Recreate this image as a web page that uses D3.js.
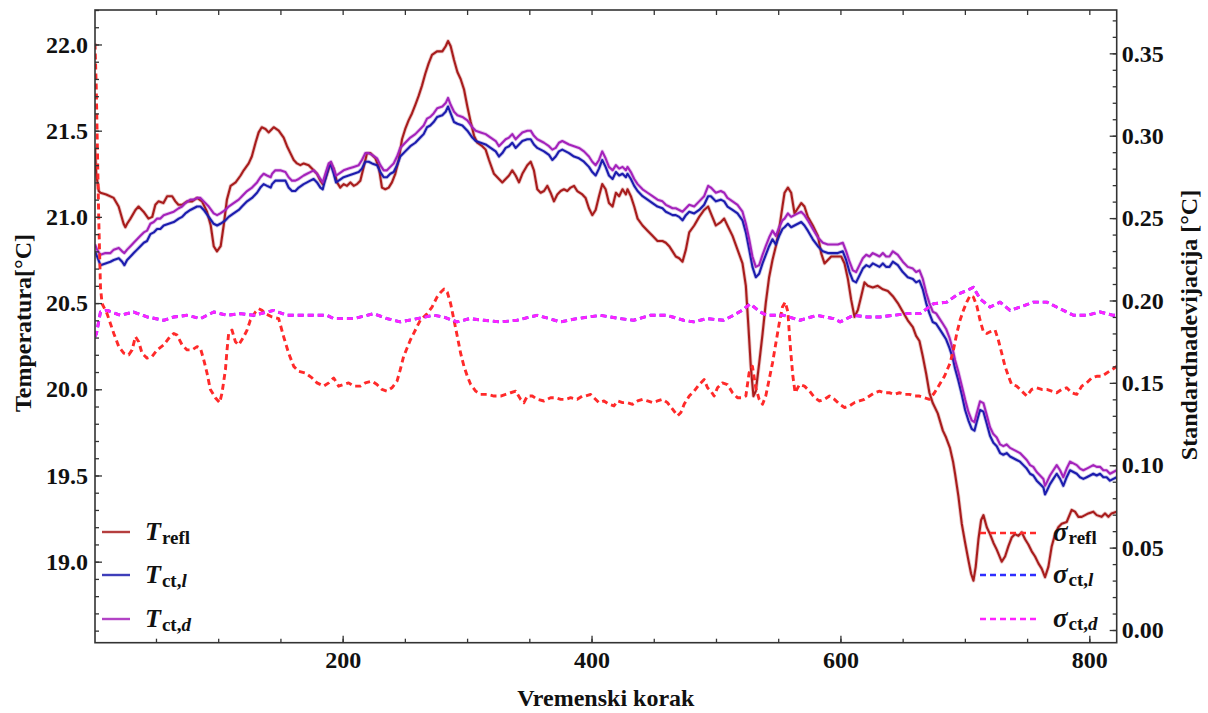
<!DOCTYPE html>
<html>
<head>
<meta charset="utf-8">
<script src="https://cdn.jsdelivr.net/npm/d3@7"></script>
<style>
  html, body { margin: 0; padding: 0; background: #ffffff; }
  svg { display: block; }
  text { font-family: "Liberation Serif", "Times New Roman", serif; font-weight: bold; fill: #111; }
</style>
</head>
<body>
<svg id="chart" width="1208" height="713"></svg>
<script>
// ---------------- DATA (step, value) ----------------
const tRefl = [[1,21.40],[2,21.25],[4,21.15],[5.4,21.14],[10,21.13],[16,21.11],[20,21.06],[24,20.96],[25.4,20.94],[26.8,20.96],[29.5,20.99],[33.5,21.04],[36,21.06],[40,21.03],[44,20.99],[47,21.00],[49.5,21.07],[52,21.09],[56,21.08],[59,21.12],[63,21.12],[65.6,21.09],[68,21.07],[71,21.07],[75,21.09],[79,21.09],[83,21.11],[87,21.09],[91,21.03],[94,20.95],[96.4,20.83],[99,20.80],[102,20.83],[104.4,20.95],[107,21.10],[110,21.18],[114,21.20],[118,21.24],[120.5,21.27],[124.5,21.31],[127,21.35],[130,21.43],[132.5,21.49],[135,21.52],[138,21.51],[140.5,21.49],[144.6,21.52],[148.6,21.50],[152.6,21.46],[155.3,21.41],[158,21.37],[160.7,21.33],[163.3,21.31],[166,21.30],[168.7,21.31],[172.7,21.30],[176.7,21.27],[179.4,21.25],[182.1,21.21],[184,21.19],[186.1,21.22],[188.8,21.28],[190.6,21.31],[192.8,21.28],[195.5,21.20],[198.1,21.17],[200.8,21.19],[203.5,21.18],[206.2,21.20],[208.9,21.18],[211.5,21.19],[214.2,21.21],[216.9,21.29],[219.6,21.37],[222.2,21.37],[226.3,21.34],[229,21.29],[231.6,21.17],[234.3,21.16],[237,21.17],[239.6,21.20],[242.3,21.25],[245,21.33],[247.7,21.45],[250.3,21.51],[253,21.56],[255.7,21.60],[258.4,21.65],[261,21.70],[263.7,21.76],[266.4,21.83],[269.1,21.89],[271.8,21.94],[275.8,21.96],[280.1,21.96],[282.8,21.99],[284.7,22.02],[286.8,21.99],[289.5,21.91],[292.2,21.84],[294.8,21.80],[297.5,21.74],[300.2,21.64],[302.9,21.55],[305.6,21.47],[308.2,21.43],[312.2,21.41],[314.9,21.39],[317.6,21.33],[321.6,21.25],[325.6,21.22],[328.3,21.20],[331,21.22],[333.7,21.24],[336.3,21.27],[339,21.24],[341.7,21.20],[344.4,21.25],[348.4,21.30],[351.1,21.32],[353.7,21.27],[356.4,21.16],[359.1,21.14],[361.8,21.15],[364.5,21.18],[367.1,21.14],[369.8,21.09],[372.5,21.13],[375.2,21.15],[377.8,21.16],[380.5,21.15],[383.2,21.17],[385.9,21.18],[388.5,21.15],[392.6,21.13],[395.2,21.11],[397.9,21.05],[400.6,21.01],[403.3,21.04],[406,21.12],[408.6,21.19],[411.3,21.16],[414,21.08],[416.9,21.06],[419.6,21.14],[422.2,21.12],[424.9,21.16],[427.6,21.13],[428.9,21.16],[431.6,21.12],[434.3,21.06],[437,20.99],[441,20.95],[445,20.92],[449,20.89],[453,20.86],[457,20.86],[459.7,20.85],[462.4,20.83],[465.1,20.80],[467.7,20.77],[470.4,20.76],[473.1,20.74],[475.8,20.81],[478.5,20.91],[482.5,20.95],[486.5,21.00],[490.5,21.04],[493.7,21.06],[495.9,21.02],[499.9,20.95],[503.9,20.97],[506.6,20.99],[509.2,20.95],[513.3,20.89],[517.3,20.81],[521.3,20.73],[524,20.60],[526.1,20.36],[528,20.13],[530.1,19.96],[532,19.99],[534.7,20.15],[537.4,20.32],[540,20.50],[542.7,20.65],[545.4,20.75],[548.1,20.83],[550.8,20.93],[553.4,21.06],[555.1,21.14],[557.8,21.17],[560.4,21.14],[563.1,21.02],[565.8,21.05],[568.5,21.08],[571.1,21.06],[573.8,21.00],[577.8,20.95],[581.9,20.89],[584.5,20.79],[587.2,20.73],[589.9,20.75],[592.6,20.77],[596.6,20.77],[600.6,20.77],[603.3,20.73],[606,20.64],[608.6,20.52],[611.3,20.42],[614,20.46],[616.7,20.54],[619.3,20.62],[622,20.60],[626,20.59],[630,20.60],[634.1,20.58],[638.1,20.57],[642.1,20.54],[646.1,20.50],[650.1,20.45],[654.1,20.40],[658.2,20.36],[660.8,20.31],[663.5,20.28],[666.2,20.19],[668.9,20.09],[671.5,19.98],[674.2,19.92],[678.2,19.86],[682.3,19.76],[684.9,19.72],[688,19.66],[690.5,19.58],[692.1,19.51],[694.8,19.38],[697.5,19.22],[700.2,19.11],[702.8,19.01],[705,18.93],[706.9,18.89],[708.7,18.97],[710.9,19.13],[713,19.24],[714.9,19.27],[717.6,19.20],[720.2,19.16],[722.9,19.11],[725.6,19.07],[729.6,19.00],[732.3,19.03],[735,19.09],[737.6,19.14],[740.3,19.16],[743,19.15],[745.7,19.17],[748.4,19.13],[751,19.10],[753.7,19.06],[756.4,19.03],[759.1,18.99],[761.7,18.96],[764.4,18.91],[767.1,18.97],[769.8,19.09],[772.5,19.16],[775.1,19.20],[777.8,19.22],[781.8,19.23],[785.8,19.30],[788.5,19.29],[791.2,19.26],[793.9,19.26],[796.6,19.27],[799.2,19.28],[803.2,19.29],[805.9,19.27],[809.9,19.26],[812.6,19.28],[815.3,19.26],[817.9,19.28],[822,19.29]];

const tCtL = [[1,20.80],[2.7,20.77],[5.4,20.72],[9.4,20.73],[13.4,20.74],[16.1,20.75],[20.1,20.76],[22.8,20.74],[24.6,20.72],[26.8,20.75],[29.5,20.77],[32.1,20.79],[34.8,20.81],[37.5,20.83],[40.2,20.85],[42.8,20.86],[45.5,20.90],[48.2,20.91],[50.9,20.93],[53.5,20.93],[56.2,20.95],[60.2,20.96],[64.3,20.97],[68.3,20.99],[71,21.00],[73.6,21.02],[77.6,21.04],[80.3,21.05],[83,21.06],[85.7,21.06],[88.4,21.04],[92.4,21.00],[96.4,20.96],[99.1,20.95],[101.7,20.96],[105.8,20.98],[108.4,21.00],[112.4,21.02],[116.5,21.04],[119.1,21.06],[123.2,21.09],[127.2,21.11],[131.2,21.14],[133.9,21.17],[136.5,21.19],[139.2,21.18],[142.2,21.17],[143.3,21.19],[145.9,21.21],[149.9,21.21],[154,21.21],[156.6,21.17],[159.3,21.15],[162,21.15],[164.7,21.17],[168.7,21.19],[171.4,21.20],[174,21.21],[176.7,21.22],[179.4,21.20],[182.1,21.17],[184,21.16],[186.1,21.22],[188.8,21.29],[190.6,21.30],[192.8,21.25],[194.7,21.20],[196.8,21.21],[200.8,21.23],[204.8,21.24],[208.9,21.25],[212.9,21.26],[215.5,21.28],[218.2,21.32],[220.9,21.32],[223.6,21.31],[227.6,21.30],[230.3,21.26],[233,21.23],[235.6,21.23],[238.3,21.25],[241,21.26],[243.7,21.30],[246.3,21.35],[250.3,21.38],[254.4,21.41],[258.4,21.43],[262.4,21.46],[265.1,21.48],[267.8,21.52],[270.4,21.53],[273.1,21.55],[276,21.58],[280.1,21.59],[282.8,21.61],[284.7,21.64],[286.8,21.60],[289.5,21.55],[292.2,21.54],[296.2,21.53],[300.2,21.50],[304.2,21.46],[306.9,21.44],[310.9,21.43],[314.9,21.42],[318.9,21.40],[323,21.38],[325.6,21.35],[328.3,21.37],[331,21.40],[333.7,21.41],[336.3,21.43],[339,21.40],[341.7,21.42],[344.4,21.44],[348.4,21.45],[351.1,21.45],[353.7,21.42],[356.4,21.40],[359.1,21.39],[361.8,21.38],[365.8,21.36],[368.5,21.33],[371.2,21.35],[373.8,21.38],[376.5,21.39],[379.2,21.38],[381.9,21.37],[385.9,21.35],[389.9,21.34],[393.9,21.32],[397.9,21.29],[400.6,21.26],[403.3,21.24],[406,21.28],[408.6,21.33],[411.3,21.29],[414,21.24],[416.9,21.22],[419.6,21.26],[422.2,21.24],[424.9,21.25],[427.6,21.23],[428.9,21.25],[431.6,21.22],[434.3,21.18],[437,21.15],[441,21.12],[445,21.10],[449,21.08],[453,21.06],[457,21.05],[459.7,21.03],[462.4,21.02],[465.1,21.01],[467.7,21.01],[470.4,21.00],[473.1,20.98],[475.8,21.01],[478.5,21.03],[482.5,21.02],[486.5,21.04],[490.5,21.07],[493.7,21.12],[495.9,21.12],[499.9,21.09],[503.9,21.10],[506.6,21.09],[509.2,21.06],[513.3,21.04],[517.3,21.02],[521.3,20.98],[524,20.91],[526.7,20.81],[529.3,20.71],[532,20.65],[534.7,20.67],[537.4,20.73],[540,20.78],[542.7,20.83],[545.4,20.87],[548.1,20.84],[550.8,20.89],[553.4,20.93],[555.1,20.94],[557.8,20.96],[560.4,20.94],[563.1,20.95],[565.8,20.96],[568.5,20.97],[571.1,20.95],[573.8,20.92],[577.8,20.87],[581.9,20.83],[585.9,20.80],[589.9,20.79],[593.9,20.79],[597.9,20.79],[601.9,20.80],[604.6,20.75],[607.3,20.68],[610,20.63],[612.6,20.62],[615.3,20.66],[618,20.70],[620.7,20.72],[623.4,20.71],[626,20.73],[628.7,20.72],[631.4,20.71],[634.1,20.73],[636.7,20.71],[639.4,20.71],[642.1,20.74],[646.1,20.72],[650.1,20.68],[654.1,20.65],[658.2,20.64],[660.8,20.62],[663.5,20.63],[666.2,20.58],[668.9,20.50],[671.5,20.44],[674.2,20.39],[676.9,20.38],[679.6,20.35],[682.3,20.32],[684.9,20.29],[687.6,20.24],[690.3,20.18],[692.1,20.12],[694.8,20.05],[697.5,19.97],[700.2,19.88],[702.8,19.82],[705.5,19.77],[707.7,19.76],[709.5,19.81],[712.2,19.88],[714.9,19.87],[717.6,19.80],[720.2,19.73],[722.9,19.69],[725.6,19.67],[728.3,19.63],[730.9,19.62],[733.6,19.63],[736.3,19.61],[739,19.60],[741.7,19.59],[744.3,19.58],[747,19.56],[749.7,19.54],[752.4,19.51],[755,19.50],[757.7,19.47],[760.4,19.45],[763.1,19.43],[764.4,19.39],[765.8,19.41],[768.4,19.45],[771.1,19.48],[773.8,19.51],[776.5,19.48],[779.1,19.44],[781.8,19.49],[784.5,19.53],[787.2,19.52],[789.9,19.51],[792.5,19.49],[795.2,19.48],[797.9,19.49],[800.6,19.50],[803.2,19.51],[805.9,19.50],[808.6,19.51],[811.3,19.49],[813.9,19.49],[816.6,19.47],[819.3,19.48],[822,19.49]];

const tCtD = [[1,20.84],[2.7,20.81],[5.4,20.78],[9.4,20.79],[13.4,20.79],[16.1,20.81],[20.1,20.82],[22.8,20.80],[24.6,20.79],[26.8,20.81],[29.5,20.83],[32.1,20.85],[34.8,20.87],[37.5,20.89],[40.2,20.91],[42.8,20.92],[45.5,20.96],[48.2,20.97],[50.9,20.99],[53.5,20.99],[56.2,21.01],[60.2,21.02],[64.3,21.03],[68.3,21.05],[71,21.06],[73.6,21.08],[77.6,21.10],[80.3,21.10],[83,21.11],[85.7,21.11],[88.4,21.09],[92.4,21.06],[96.4,21.02],[99.1,21.01],[101.7,21.02],[105.8,21.04],[108.4,21.06],[112.4,21.08],[116.5,21.10],[119.1,21.12],[123.2,21.15],[127.2,21.17],[131.2,21.20],[133.9,21.23],[136.5,21.25],[139.2,21.24],[142.2,21.23],[143.3,21.25],[145.9,21.27],[149.9,21.27],[154,21.26],[156.6,21.23],[159.3,21.21],[162,21.21],[164.7,21.22],[168.7,21.24],[171.4,21.25],[174,21.26],[176.7,21.27],[179.4,21.25],[182.1,21.22],[184,21.20],[186.1,21.25],[188.8,21.31],[190.6,21.32],[192.8,21.28],[194.7,21.24],[196.8,21.25],[200.8,21.27],[204.8,21.28],[208.9,21.29],[212.9,21.30],[215.5,21.33],[218.2,21.37],[220.9,21.37],[223.6,21.36],[227.6,21.34],[230.3,21.30],[233,21.27],[235.6,21.27],[238.3,21.29],[241,21.31],[243.7,21.35],[246.3,21.40],[250.3,21.43],[254.4,21.46],[258.4,21.48],[262.4,21.51],[265.1,21.53],[267.8,21.57],[270.4,21.58],[273.1,21.60],[276,21.63],[280.1,21.64],[282.8,21.66],[284.7,21.69],[286.8,21.65],[289.5,21.61],[292.2,21.59],[296.2,21.58],[300.2,21.56],[304.2,21.52],[306.9,21.50],[310.9,21.49],[314.9,21.48],[318.9,21.46],[323,21.44],[325.6,21.41],[328.3,21.43],[331,21.45],[333.7,21.46],[336.3,21.48],[339,21.45],[341.7,21.47],[344.4,21.49],[348.4,21.50],[351.1,21.50],[353.7,21.47],[356.4,21.45],[359.1,21.44],[361.8,21.43],[365.8,21.41],[368.5,21.39],[371.2,21.40],[373.8,21.43],[376.5,21.44],[379.2,21.43],[381.9,21.42],[385.9,21.41],[389.9,21.40],[393.9,21.38],[397.9,21.35],[400.6,21.32],[403.3,21.30],[406,21.33],[408.6,21.38],[411.3,21.34],[414,21.29],[416.9,21.27],[419.6,21.30],[422.2,21.28],[424.9,21.29],[427.6,21.27],[428.9,21.29],[431.6,21.26],[434.3,21.22],[437,21.19],[441,21.16],[445,21.14],[449,21.12],[453,21.10],[457,21.09],[459.7,21.07],[462.4,21.06],[465.1,21.05],[467.7,21.05],[470.4,21.04],[473.1,21.03],[475.8,21.05],[478.5,21.07],[482.5,21.06],[486.5,21.09],[490.5,21.12],[493.7,21.18],[495.9,21.17],[499.9,21.14],[503.9,21.15],[506.6,21.14],[509.2,21.11],[513.3,21.09],[517.3,21.07],[521.3,21.03],[524,20.96],[526.7,20.87],[529.3,20.77],[532,20.71],[534.7,20.72],[537.4,20.78],[540,20.83],[542.7,20.88],[545.4,20.92],[548.1,20.89],[550.8,20.94],[553.4,20.98],[555.1,20.99],[557.8,21.02],[560.4,21.00],[563.1,21.01],[565.8,21.02],[568.5,21.03],[571.1,21.01],[573.8,20.98],[577.8,20.93],[581.9,20.88],[585.9,20.85],[589.9,20.84],[593.9,20.84],[597.9,20.84],[601.9,20.85],[604.6,20.80],[607.3,20.74],[610,20.69],[612.6,20.68],[615.3,20.72],[618,20.76],[620.7,20.78],[623.4,20.77],[626,20.79],[628.7,20.78],[631.4,20.77],[634.1,20.79],[636.7,20.77],[639.4,20.77],[642.1,20.80],[646.1,20.78],[650.1,20.74],[654.1,20.71],[658.2,20.70],[660.8,20.68],[663.5,20.69],[666.2,20.64],[668.9,20.56],[671.5,20.50],[674.2,20.45],[676.9,20.44],[679.6,20.41],[682.3,20.38],[684.9,20.35],[687.6,20.30],[690.3,20.23],[692.1,20.17],[694.8,20.10],[697.5,20.02],[700.2,19.94],[702.8,19.87],[705.5,19.82],[707.7,19.81],[709.5,19.86],[712.2,19.93],[714.9,19.92],[717.6,19.85],[720.2,19.78],[722.9,19.74],[725.6,19.72],[728.3,19.68],[730.9,19.67],[733.6,19.68],[736.3,19.66],[739,19.65],[741.7,19.64],[744.3,19.63],[747,19.61],[749.7,19.59],[752.4,19.56],[755,19.55],[757.7,19.52],[760.4,19.50],[763.1,19.48],[764.4,19.44],[765.8,19.46],[768.4,19.50],[771.1,19.53],[773.8,19.56],[776.5,19.53],[779.1,19.49],[781.8,19.54],[784.5,19.58],[787.2,19.57],[789.9,19.56],[792.5,19.54],[795.2,19.53],[797.9,19.54],[800.6,19.55],[803.2,19.56],[805.9,19.55],[808.6,19.55],[811.3,19.53],[813.9,19.53],[816.6,19.51],[819.3,19.52],[822,19.53]];

const sigmaRefl = [[1,0.356],[2,0.33],[3,0.29],[4,0.25],[5.4,0.208],[6.7,0.198],[10.7,0.192],[16.1,0.180],[20.1,0.172],[24.1,0.168],[28.1,0.167],[30.8,0.170],[33.5,0.178],[36.1,0.175],[38.8,0.168],[42.8,0.165],[46.9,0.166],[50.9,0.170],[56.2,0.173],[60.2,0.177],[64.3,0.180],[66.9,0.179],[71,0.173],[75,0.170],[79,0.170],[83,0.172],[85.7,0.171],[88.4,0.164],[91,0.156],[93.7,0.146],[97.7,0.141],[101.2,0.138],[103.1,0.144],[105.8,0.158],[107.1,0.170],[108.4,0.180],[111.1,0.182],[113.8,0.175],[116.5,0.173],[120.5,0.178],[123.2,0.182],[125.8,0.188],[129.9,0.193],[132.5,0.195],[135.2,0.194],[137.9,0.192],[143.3,0.190],[148.6,0.189],[152.6,0.178],[156.6,0.168],[160.7,0.160],[164.7,0.157],[170,0.156],[175.4,0.153],[179.4,0.150],[184.8,0.148],[188.8,0.150],[192.8,0.153],[196.8,0.148],[200.8,0.149],[204.8,0.150],[208.9,0.148],[214.2,0.148],[218.2,0.150],[223.6,0.151],[227.6,0.149],[231.6,0.146],[235.6,0.145],[239.6,0.147],[243.7,0.151],[246.3,0.158],[249,0.166],[251.7,0.171],[254.4,0.176],[257.1,0.180],[259.7,0.184],[262.4,0.188],[265.1,0.190],[267.8,0.192],[271.8,0.196],[275.8,0.202],[278.8,0.205],[281.5,0.207],[284.1,0.205],[286.8,0.198],[289.5,0.188],[292.2,0.178],[294.8,0.168],[297.5,0.160],[300.2,0.154],[302.9,0.149],[306.9,0.145],[310.9,0.143],[316.3,0.143],[321.6,0.142],[327,0.142],[331,0.143],[335,0.144],[339,0.145],[343,0.140],[345.7,0.138],[348.4,0.142],[352.4,0.142],[356.4,0.140],[361.8,0.139],[367.1,0.141],[371.1,0.141],[375.2,0.140],[379.2,0.140],[383.2,0.141],[388.5,0.140],[392.6,0.142],[395.2,0.142],[399.3,0.143],[401.9,0.141],[406,0.138],[410,0.139],[414,0.137],[418,0.136],[420.9,0.139],[424.9,0.138],[428.9,0.138],[433,0.137],[437,0.139],[441,0.140],[445,0.139],[449,0.138],[453,0.139],[457,0.140],[461,0.138],[465.1,0.134],[469.1,0.130],[471.8,0.132],[474.4,0.137],[478.5,0.142],[482.5,0.145],[486.5,0.149],[490.5,0.152],[493.2,0.147],[495.9,0.145],[498.5,0.142],[501.2,0.147],[505.2,0.150],[509.2,0.149],[513.3,0.144],[517.3,0.141],[521.3,0.141],[524,0.142],[526.6,0.156],[529.3,0.160],[532,0.147],[534.7,0.140],[537.4,0.137],[540,0.142],[542.7,0.152],[545.4,0.162],[548.1,0.174],[550.8,0.186],[553.4,0.196],[555.6,0.199],[557.8,0.193],[559.1,0.178],[560.4,0.166],[561.8,0.154],[563.6,0.144],[567.1,0.149],[571.1,0.148],[575.2,0.145],[579.2,0.141],[583.2,0.139],[587.2,0.140],[591.2,0.142],[595.2,0.140],[599.3,0.137],[603.3,0.135],[607.3,0.136],[611.3,0.138],[615.3,0.139],[619.3,0.140],[623.4,0.142],[627.4,0.144],[631.4,0.145],[635.4,0.144],[639.4,0.144],[643.4,0.143],[647.4,0.144],[651.5,0.143],[655.5,0.143],[659.5,0.142],[663.5,0.142],[667.5,0.141],[671.5,0.140],[675.6,0.144],[679.6,0.149],[683.6,0.154],[688.1,0.162],[690.8,0.170],[693.5,0.180],[696.1,0.188],[698.8,0.194],[701.5,0.199],[704.2,0.203],[706.9,0.202],[709.5,0.197],[712.2,0.188],[714.9,0.181],[717.6,0.180],[720.2,0.181],[724.3,0.182],[726.9,0.176],[729.6,0.168],[732.3,0.160],[735,0.154],[737.6,0.149],[741.7,0.148],[745.7,0.145],[749.7,0.142],[753.7,0.146],[757.7,0.147],[761.7,0.146],[765.8,0.146],[769.8,0.145],[773.8,0.144],[777.8,0.146],[781.8,0.147],[785.8,0.144],[789.9,0.143],[793.9,0.148],[797.9,0.150],[801.9,0.153],[805.9,0.154],[809.9,0.154],[814,0.156],[818,0.158],[822,0.160]];

const sigmaCtL = [[1,0.178],[2.2,0.180],[5.4,0.193],[10.8,0.194],[21.4,0.191],[32.1,0.193],[42.9,0.190],[56.2,0.188],[64.3,0.190],[75,0.191],[85.7,0.189],[96.4,0.193],[107.1,0.191],[117.8,0.192],[128.5,0.191],[144.6,0.194],[155.3,0.191],[166,0.191],[176.7,0.191],[187.5,0.191],[192.8,0.189],[200.8,0.189],[208.8,0.189],[219.5,0.191],[224.9,0.192],[235.7,0.189],[246.3,0.187],[260,0.189],[273.1,0.191],[281,0.190],[291.9,0.187],[302,0.189],[313.3,0.188],[326.7,0.187],[340.1,0.188],[356.2,0.191],[366,0.189],[374.9,0.187],[388.3,0.189],[407,0.191],[423.1,0.189],[433.8,0.188],[447.2,0.191],[460.6,0.191],[474,0.188],[482,0.187],[492.7,0.189],[506.1,0.188],[514.2,0.191],[521,0.194],[527.5,0.198],[535.6,0.193],[540.9,0.191],[554.3,0.191],[567.6,0.188],[581,0.191],[594.4,0.189],[599.8,0.187],[610.5,0.191],[621.2,0.190],[631.9,0.190],[642.6,0.191],[653.3,0.192],[664,0.192],[674.8,0.198],[685.5,0.199],[694.8,0.204],[701.5,0.206],[706.9,0.208],[712.2,0.201],[720.3,0.196],[728.3,0.199],[736.3,0.194],[744.4,0.196],[755.1,0.199],[765.8,0.199],[776.5,0.195],[787.2,0.191],[797.9,0.191],[808.6,0.193],[819.3,0.191],[822,0.191]];

const sigmaCtD = [[1,0.178],[2.2,0.180],[5.4,0.193],[10.8,0.194],[21.4,0.191],[32.1,0.193],[42.9,0.190],[56.2,0.188],[64.3,0.190],[75,0.191],[85.7,0.189],[96.4,0.193],[107.1,0.191],[117.8,0.192],[128.5,0.191],[144.6,0.194],[155.3,0.191],[166,0.191],[176.7,0.191],[187.5,0.191],[192.8,0.189],[200.8,0.189],[208.8,0.189],[219.5,0.191],[224.9,0.192],[235.7,0.189],[246.3,0.187],[260,0.189],[273.1,0.191],[281,0.190],[291.9,0.187],[302,0.189],[313.3,0.188],[326.7,0.187],[340.1,0.188],[356.2,0.191],[366,0.189],[374.9,0.187],[388.3,0.189],[407,0.191],[423.1,0.189],[433.8,0.188],[447.2,0.191],[460.6,0.191],[474,0.188],[482,0.187],[492.7,0.189],[506.1,0.188],[514.2,0.191],[521,0.194],[527.5,0.198],[535.6,0.193],[540.9,0.191],[554.3,0.191],[567.6,0.188],[581,0.191],[594.4,0.189],[599.8,0.187],[610.5,0.191],[621.2,0.190],[631.9,0.190],[642.6,0.191],[653.3,0.192],[664,0.192],[674.8,0.198],[685.5,0.199],[694.8,0.204],[701.5,0.206],[706.9,0.208],[712.2,0.201],[720.3,0.196],[728.3,0.199],[736.3,0.194],[744.4,0.196],[755.1,0.199],[765.8,0.199],[776.5,0.195],[787.2,0.191],[797.9,0.191],[808.6,0.193],[819.3,0.191],[822,0.191]];

const xTickLabels = [200, 400, 600, 800];
const leftTickLabels = [19.0, 19.5, 20.0, 20.5, 21.0, 21.5, 22.0];
const rightTickLabels = [0.00, 0.05, 0.10, 0.15, 0.20, 0.25, 0.30, 0.35];
const xTitle = "Vremenski korak";
const yLeftTitle = "Temperatura[°C]";
const yRightTitle = "Standardnadevijacija [°C]";

// ---------------- LAYOUT ----------------
const svg = d3.select("#chart");
const L = 95, R = 1116.7, T = 10, B = 642.7;
const x = d3.scaleLinear().domain([1, 822]).range([L, R]);
const yL = d3.scaleLinear().domain([18.53, 22.2]).range([B, T]);
const yR = d3.scaleLinear().domain([-0.0077, 0.3763]).range([B, T]);

const colors = {
  tRefl: "#a81c1c", tCtL: "#1c1cae", tCtD: "#a422bb",
  sRefl: "#ff2a2a", sCtL: "#2e2eff", sCtD: "#ff22ff"
};
const axisColor = "#333";

svg.append("rect").attr("width", 1208).attr("height", 713).attr("fill", "#fff");

svg.append("clipPath").attr("id", "clip")
  .append("rect").attr("x", L).attr("y", T).attr("width", R - L).attr("height", B - T);

const plot = svg.append("g").attr("clip-path", "url(#clip)");

const lineL = d3.line().x(d => x(d[0])).y(d => yL(d[1]));
const lineR = d3.line().x(d => x(d[0])).y(d => yR(d[1]));

function drawSolid(data, color) {
  plot.append("path").datum(data).attr("d", lineL).attr("fill", "none")
    .attr("stroke", color).attr("stroke-opacity", 0.25).attr("stroke-width", 3.8)
    .attr("stroke-linejoin", "round");
  plot.append("path").datum(data).attr("d", lineL).attr("fill", "none")
    .attr("stroke", color).attr("stroke-width", 2.1).attr("stroke-linejoin", "round");
}
function drawDashed(data, color) {
  plot.append("path").datum(data).attr("d", lineR).attr("fill", "none")
    .attr("stroke", color).attr("stroke-width", 2.9).attr("stroke-dasharray", "6,4")
    .attr("stroke-linejoin", "round");
}
drawSolid(tRefl, colors.tRefl);
drawSolid(tCtL, colors.tCtL);
drawSolid(tCtD, colors.tCtD);
drawDashed(sigmaRefl, colors.sRefl);
drawDashed(sigmaCtL, colors.sCtL);
drawDashed(sigmaCtD, colors.sCtD);

// ---------------- AXES ----------------
function styleAxis(g) {
  g.select(".domain").remove();
  g.selectAll(".tick line").attr("stroke", axisColor).attr("stroke-width", 1.3);
  g.selectAll(".tick text").attr("font-family", "Liberation Serif, Times New Roman, serif")
    .attr("font-weight", "bold").attr("font-size", 24).attr("fill", "#111");
}
const xMinor = d3.range(50, 822, 50);
svg.append("g").attr("transform", `translate(0,${B})`)
  .call(d3.axisBottom(x).tickValues(xMinor).tickSize(-4).tickFormat("")).call(styleAxis);
svg.append("g").attr("transform", `translate(0,${B})`)
  .call(d3.axisBottom(x).tickValues(xTickLabels).tickSize(-7).tickPadding(8).tickFormat(d3.format("d"))).call(styleAxis);
svg.append("g").attr("transform", `translate(0,${T})`)
  .call(d3.axisTop(x).tickValues(xMinor).tickSize(-5).tickFormat("")).call(styleAxis);

const yLMinor = d3.range(186, 223).map(v => v / 10);
svg.append("g").attr("transform", `translate(${L},0)`)
  .call(d3.axisLeft(yL).tickValues(yLMinor).tickSize(-4).tickFormat("")).call(styleAxis);
svg.append("g").attr("transform", `translate(${L},0)`)
  .call(d3.axisLeft(yL).tickValues(leftTickLabels).tickSize(-7).tickPadding(7).tickFormat(d3.format(".1f"))).call(styleAxis);

const yRMinor = d3.range(0, 38).map(v => v / 100);
svg.append("g").attr("transform", `translate(${R},0)`)
  .call(d3.axisRight(yR).tickValues(yRMinor).tickSize(-4).tickFormat("")).call(styleAxis);
svg.append("g").attr("transform", `translate(${R},0)`)
  .call(d3.axisRight(yR).tickValues(rightTickLabels).tickSize(-7).tickPadding(5).tickFormat(d3.format(".2f"))).call(styleAxis);

svg.append("rect").attr("x", L).attr("y", T).attr("width", R - L).attr("height", B - T)
  .attr("fill", "none").attr("stroke", axisColor).attr("stroke-width", 1.6);

// Titles
svg.append("text").attr("x", (L + R) / 2).attr("y", 706).attr("text-anchor", "middle")
  .attr("font-size", 24).text(xTitle);
svg.append("text").attr("transform", `translate(31,323) rotate(-90)`)
  .attr("text-anchor", "middle").attr("font-size", 24).text(yLeftTitle);
svg.append("text").attr("transform", `translate(1197,325) rotate(-90)`)
  .attr("text-anchor", "middle").attr("font-size", 24).text(yRightTitle);

// ---------------- LEGENDS ----------------
const legLeft = [
  { color: colors.tRefl, y: 532, sub: [["refl", false]] },
  { color: colors.tCtL, y: 575, sub: [["ct,", false], ["l", true]] },
  { color: colors.tCtD, y: 619, sub: [["ct,", false], ["d", true]] }
];
legLeft.forEach(d => {
  svg.append("line").attr("x1", 102).attr("x2", 130).attr("y1", d.y).attr("y2", d.y)
    .attr("stroke", d.color).attr("stroke-width", 2.4).attr("stroke-opacity", 0.85);
  const t = svg.append("text").attr("x", 145).attr("y", d.y + 8);
  t.append("tspan").attr("font-style", "italic").attr("font-size", 26).text("T");
  d.sub.forEach((s, i) => {
    const ts = t.append("tspan").attr("font-size", 19).text(s[0]);
    if (i === 0) ts.attr("dy", 4).attr("dx", 1);
    if (s[1]) ts.attr("font-style", "italic");
  });
});

const legRight = [
  { color: colors.sRefl, y: 533, sub: [["refl", false]] },
  { color: colors.sCtL, y: 575, sub: [["ct,", false], ["l", true]] },
  { color: colors.sCtD, y: 619, sub: [["ct,", false], ["d", true]] }
];
legRight.forEach(d => {
  svg.append("line").attr("x1", 980).attr("x2", 1038).attr("y1", d.y).attr("y2", d.y)
    .attr("stroke", d.color).attr("stroke-width", 2.4).attr("stroke-dasharray", "6,4");
  const t = svg.append("text").attr("x", 1053).attr("y", d.y + 8);
  t.append("tspan").attr("font-style", "italic").attr("font-size", 27).text("σ");
  d.sub.forEach((s, i) => {
    const ts = t.append("tspan").attr("font-size", 19).text(s[0]);
    if (i === 0) ts.attr("dy", 3).attr("dx", 1);
    if (s[1]) ts.attr("font-style", "italic");
  });
});
</script>
</body>
</html>
